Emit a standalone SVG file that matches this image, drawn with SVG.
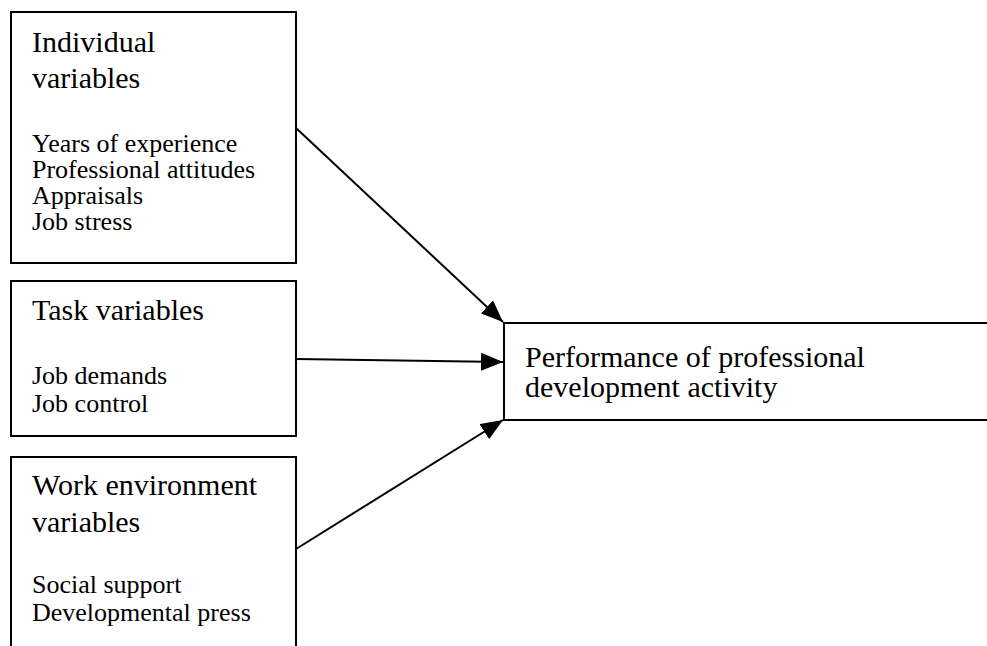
<svg xmlns="http://www.w3.org/2000/svg" width="987" height="646" viewBox="0 0 987 646">
<style>
.box{fill:#fff;stroke:#000;stroke-width:2}
.title{font-family:"Liberation Serif","Times New Roman",serif;font-size:30px;fill:#000}
.item{font-family:"Liberation Serif","Times New Roman",serif;font-size:26px;fill:#000}
.conn{stroke:#000;stroke-width:2;fill:none}
</style>
<defs>
<marker id="arr" viewBox="0 0 22 18" refX="22" refY="9" markerWidth="22" markerHeight="18" markerUnits="userSpaceOnUse" orient="auto">
<path d="M0,0 L22,9 L0,18 Z" fill="#000"/>
</marker>
</defs>
<rect width="987" height="646" fill="#fff"/>
<g id="individual">
<rect class="box" x="11" y="12" width="285" height="251"/>
<text class="title" x="32" y="52">Individual</text>
<text class="title" x="32" y="88">variables</text>
<text class="item" x="32" y="152">Years of experience</text>
<text class="item" x="32" y="178">Professional attitudes</text>
<text class="item" x="32" y="204">Appraisals</text>
<text class="item" x="32" y="230">Job stress</text>
</g>
<g id="task">
<rect class="box" x="11" y="281" width="285" height="155"/>
<text class="title" x="32" y="320">Task variables</text>
<text class="item" x="32" y="384">Job demands</text>
<text class="item" x="32" y="412">Job control</text>
</g>
<g id="work">
<rect class="box" x="11" y="457" width="285" height="200"/>
<text class="title" x="32" y="495">Work environment</text>
<text class="title" x="32" y="532">variables</text>
<text class="item" x="32" y="593">Social support</text>
<text class="item" x="32" y="621">Developmental press</text>
</g>
<g id="performance">
<rect class="box" x="504" y="323" width="500" height="97"/>
<text class="title" x="525" y="367">Performance of professional</text>
<text class="title" x="525" y="397">development activity</text>
</g>
<g id="connectors">
<line class="conn" x1="296" y1="128" x2="503" y2="322" marker-end="url(#arr)"/>
<line class="conn" x1="296" y1="359" x2="503" y2="362" marker-end="url(#arr)"/>
<line class="conn" x1="296" y1="549" x2="503" y2="420" marker-end="url(#arr)"/>
</g>
</svg>
